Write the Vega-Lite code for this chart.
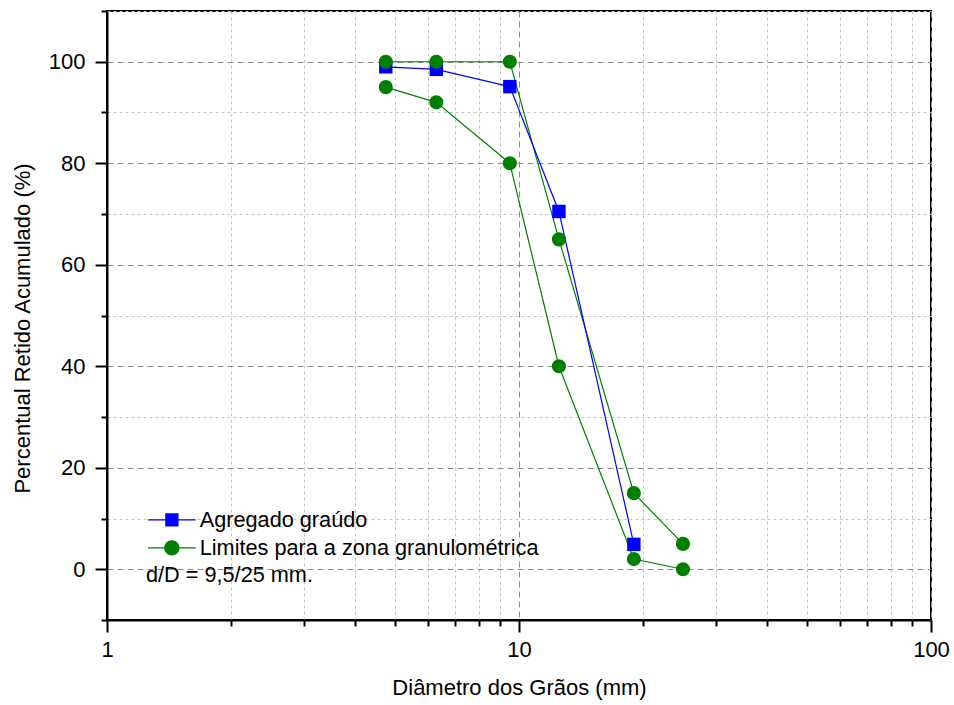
{
  "$schema": "https://vega.github.io/schema/vega-lite/v6.json",
  "width": 824,
  "height": 609,
  "autosize": {"type": "none"},
  "padding": {"left": 107, "top": 11, "right": 23, "bottom": 85},
  "background": "white",
  "config": {
    "font": "Liberation Sans",
    "view": {"stroke": "black", "strokeWidth": 2},
    "axis": {
      "domainColor": "black",
      "domainWidth": 2,
      "tickColor": "black",
      "tickWidth": 2,
      "labelColor": "black",
      "titleColor": "black",
      "titleFontWeight": "normal",
      "labelFlush": false,
      "labelOverlap": false,
      "labelBound": false
    }
  },
  "data": {
    "values": [
      {"serie": "Agregado graúdo", "curva": "agregado", "diametro": 4.75, "retido": 99.0},
      {"serie": "Agregado graúdo", "curva": "agregado", "diametro": 6.3, "retido": 98.5},
      {"serie": "Agregado graúdo", "curva": "agregado", "diametro": 9.5, "retido": 95.1},
      {"serie": "Agregado graúdo", "curva": "agregado", "diametro": 12.5, "retido": 70.5},
      {"serie": "Agregado graúdo", "curva": "agregado", "diametro": 19, "retido": 4.9},
      {"serie": "Limites para a zona granulométrica", "curva": "superior", "diametro": 4.75, "retido": 100},
      {"serie": "Limites para a zona granulométrica", "curva": "superior", "diametro": 6.3, "retido": 100},
      {"serie": "Limites para a zona granulométrica", "curva": "superior", "diametro": 9.5, "retido": 100},
      {"serie": "Limites para a zona granulométrica", "curva": "superior", "diametro": 12.5, "retido": 65},
      {"serie": "Limites para a zona granulométrica", "curva": "superior", "diametro": 19, "retido": 15},
      {"serie": "Limites para a zona granulométrica", "curva": "superior", "diametro": 25, "retido": 5},
      {"serie": "Limites para a zona granulométrica", "curva": "inferior", "diametro": 4.75, "retido": 95},
      {"serie": "Limites para a zona granulométrica", "curva": "inferior", "diametro": 6.3, "retido": 92},
      {"serie": "Limites para a zona granulométrica", "curva": "inferior", "diametro": 9.5, "retido": 80},
      {"serie": "Limites para a zona granulométrica", "curva": "inferior", "diametro": 12.5, "retido": 40},
      {"serie": "Limites para a zona granulométrica", "curva": "inferior", "diametro": 19, "retido": 2},
      {"serie": "Limites para a zona granulométrica", "curva": "inferior", "diametro": 25, "retido": 0}
    ]
  },
  "layer": [
    {
      "transform": [{"filter": "datum.serie != 'Agregado graúdo'"}],
      "mark": {"type": "line", "strokeWidth": 1.2, "color": "#008000"},
      "encoding": {
        "x": {
          "field": "diametro",
          "type": "quantitative",
          "scale": {"type": "log", "domain": [1, 100], "nice": false},
          "axis": {
            "orient": "bottom",
            "values": [2, 3, 4, 5, 6, 7, 8, 9, 20, 30, 40, 50, 60, 70, 80, 90],
            "labels": false,
            "title": null,
            "domain": false,
            "tickSize": 6,
            "grid": true,
            "gridColor": "#c4c4c4",
            "gridDash": [3, 3],
            "gridWidth": 1
          }
        },
        "y": {
          "field": "retido",
          "type": "quantitative",
          "scale": {"domain": [-10, 110], "nice": false, "zero": false},
          "axis": {
            "orient": "left",
            "values": [-10, 10, 30, 50, 70, 90, 110],
            "labels": false,
            "title": null,
            "domain": false,
            "tickSize": 6,
            "grid": true,
            "gridColor": "#c4c4c4",
            "gridDash": [3, 3],
            "gridWidth": 1
          }
        },
        "detail": {"field": "curva"}
      }
    },
    {
      "transform": [{"filter": "datum.serie == 'Agregado graúdo'"}],
      "mark": {"type": "line", "strokeWidth": 1.2, "color": "#0000ff"},
      "encoding": {
        "x": {
          "field": "diametro",
          "type": "quantitative",
          "axis": {
            "orient": "bottom",
            "values": [1, 10, 100],
            "format": "d",
            "labelFontSize": 22,
            "labelPadding": 7,
            "tickSize": 12,
            "grid": true,
            "gridColor": "#8c8c8c",
            "gridDash": [6, 4],
            "gridWidth": 1,
            "title": "Diâmetro dos Grãos (mm)",
            "titleFontSize": 22,
            "titlePadding": 17
          }
        },
        "y": {
          "field": "retido",
          "type": "quantitative",
          "axis": {
            "orient": "left",
            "values": [0, 20, 40, 60, 80, 100],
            "format": "d",
            "labelFontSize": 22,
            "labelPadding": 10,
            "tickSize": 12,
            "grid": true,
            "gridColor": "#8c8c8c",
            "gridDash": [6, 4],
            "gridWidth": 1,
            "title": "Percentual Retido Acumulado (%)",
            "titleFontSize": 22,
            "titlePadding": 14,
            "titleY": 317
          }
        }
      }
    },
    {
      "transform": [{"filter": "datum.serie == 'Agregado graúdo'"}],
      "mark": {"type": "square", "size": 180, "opacity": 1, "color": "#0000ff"},
      "encoding": {
        "x": {"field": "diametro", "type": "quantitative", "axis": null},
        "y": {"field": "retido", "type": "quantitative", "axis": null}
      }
    },
    {
      "transform": [{"filter": "datum.serie != 'Agregado graúdo'"}],
      "mark": {"type": "circle", "size": 200, "opacity": 1, "color": "#008000"},
      "encoding": {
        "x": {"field": "diametro", "type": "quantitative", "axis": null},
        "y": {"field": "retido", "type": "quantitative", "axis": null}
      }
    },
    {
      "mark": {"type": "point", "filled": true, "opacity": 0},
      "encoding": {
        "x": {"field": "diametro", "type": "quantitative", "axis": null},
        "y": {"field": "retido", "type": "quantitative", "axis": null},
        "color": {
          "field": "serie",
          "type": "nominal",
          "scale": {
            "domain": ["Agregado graúdo", "Limites para a zona granulométrica"],
            "range": ["#0000ff", "#008000"]
          },
          "legend": {
            "orient": "none",
            "legendX": 39,
            "legendY": 498,
            "padding": 0,
            "title": "d/D = 9,5/25 mm.",
            "titleOrient": "bottom",
            "titleAnchor": "start",
            "titleFontSize": 21.7,
            "titleFontWeight": "normal",
            "titleColor": "black",
            "titlePadding": 5,
            "labelFontSize": 21.7,
            "labelColor": "black",
            "labelOffset": 17,
            "labelLimit": 600,
            "rowPadding": 5,
            "symbolOffset": 15,
            "symbolSize": 196,
            "symbolStrokeWidth": 0,
            "symbolOpacity": 1
          }
        },
        "shape": {
          "field": "serie",
          "type": "nominal",
          "scale": {
            "domain": ["Agregado graúdo", "Limites para a zona granulométrica"],
            "range": [
              "M-3.4,-0.08H3.4V0.08H-3.4ZM-0.95,-0.95H0.95V0.95H-0.95Z",
              "M-3.4,-0.08H3.4V0.08H-3.4ZM1.1,0A1.1,1.1,0,1,1,-1.1,0A1.1,1.1,0,1,1,1.1,0Z"
            ]
          },
          "legend": {
            "orient": "none",
            "legendX": 39,
            "legendY": 498,
            "padding": 0,
            "title": "d/D = 9,5/25 mm.",
            "titleOrient": "bottom",
            "titleAnchor": "start",
            "titleFontSize": 21.7,
            "titleFontWeight": "normal",
            "titleColor": "black",
            "titlePadding": 5,
            "labelFontSize": 21.7,
            "labelColor": "black",
            "labelOffset": 17,
            "labelLimit": 600,
            "rowPadding": 5,
            "symbolOffset": 15,
            "symbolSize": 196,
            "symbolStrokeWidth": 0,
            "symbolOpacity": 1
          }
        }
      }
    }
  ],
  "resolve": {"axis": {"x": "independent", "y": "independent"}}
}
